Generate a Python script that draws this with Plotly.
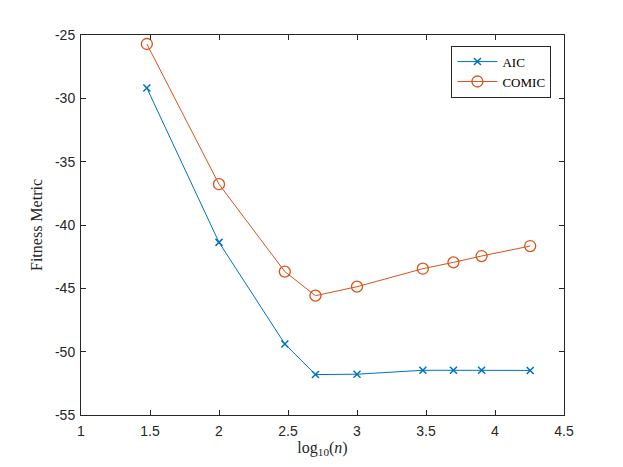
import plotly.graph_objects as go

# log10(n) sample positions
log_n = [1.477, 2.0, 2.477, 2.699, 3.0, 3.477, 3.699, 3.903, 4.255]

aic = [-29.18, -41.37, -49.39, -51.81, -51.78, -51.47, -51.47, -51.47, -51.48]
comic = [-25.71, -36.78, -43.68, -45.58, -44.87, -43.45, -42.95, -42.45, -41.66]

x_ticks = [1, 1.5, 2, 2.5, 3, 3.5, 4, 4.5]
x_ticktext = ["1", "1.5", "2", "2.5", "3", "3.5", "4", "4.5"]
y_ticks = [-55, -50, -45, -40, -35, -30, -25]
y_ticktext = ["-55", "-50", "-45", "-40", "-35", "-30", "-25"]

BLUE = "#0072BD"
ORANGE = "#D95319"
AXIS = "#262626"
SERIF = "Liberation Serif, DejaVu Serif, serif"
SANS = "Liberation Sans, Arial, sans-serif"

fig = go.Figure()

fig.add_trace(go.Scatter(
    x=log_n, y=aic, name="AIC", mode="lines+markers",
    line=dict(color=BLUE, width=1),
    marker=dict(symbol="x-thin", size=7, line=dict(color=BLUE, width=1.5)),
))
fig.add_trace(go.Scatter(
    x=log_n, y=comic, name="COMIC", mode="lines+markers",
    line=dict(color=ORANGE, width=1),
    marker=dict(symbol="circle-open", size=11, line=dict(color=ORANGE, width=1.3)),
))

axis_common = dict(
    showgrid=False,
    zeroline=False,
    showline=True,
    linecolor=AXIS,
    linewidth=1,
    mirror="ticks",
    ticks="inside",
    ticklen=5,
    tickcolor=AXIS,
    tickfont=dict(family=SANS, size=14, color=AXIS),
)

# the page body adds an 8px offset, so margins are shifted to compensate
fig.update_layout(
    width=623,
    height=467,
    margin=dict(l=73, r=67, t=27, b=60),
    plot_bgcolor="white",
    paper_bgcolor="white",
    xaxis=dict(
        range=[1, 4.5], tickvals=x_ticks, ticktext=x_ticktext,
        ticklabelstandoff=3,
        title=dict(text="log<sub>10</sub>(<i>n</i>)", font=dict(family=SERIF, size=16, color=AXIS), standoff=2),
        **axis_common,
    ),
    yaxis=dict(
        range=[-55, -25], tickvals=y_ticks, ticktext=y_ticktext,
        ticklabelstandoff=2,
        title=dict(text="Fitness Metric", font=dict(family=SERIF, size=16, color=AXIS), standoff=8),
        **axis_common,
    ),
    legend=dict(
        x=0.974, y=0.972, xanchor="right", yanchor="top",
        bgcolor="white", bordercolor=AXIS, borderwidth=1,
        font=dict(family=SERIF, size=13, color="black"),
        tracegroupgap=0, itemwidth=40,
    ),
    showlegend=True,
)

fig.write_html("out.html")
